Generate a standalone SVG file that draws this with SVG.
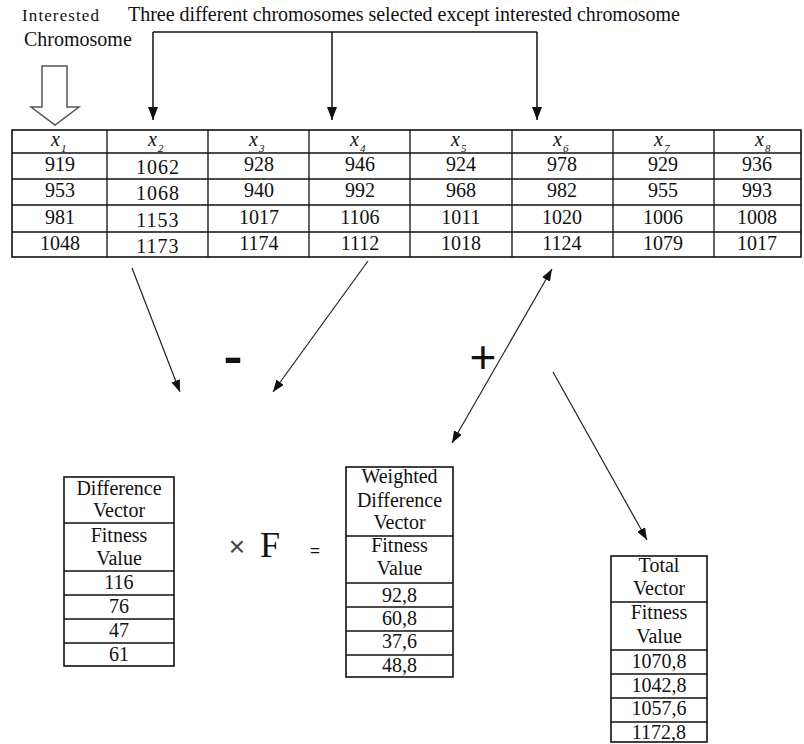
<svg xmlns="http://www.w3.org/2000/svg" width="804" height="744" viewBox="0 0 804 744">
<style>
text{font-family:"Liberation Serif","Times New Roman",serif;fill:#111;}
.c{text-anchor:middle;font-size:20px;}
.hx{font-style:italic;font-size:20px;}
.sub{font-style:italic;font-size:11px;}
.tb{fill:none;stroke:#111;stroke-width:1.6;}
.ln{fill:none;stroke:#111;stroke-width:1.3;}
.con{fill:none;stroke:#111;stroke-width:1.5;}
.dg{fill:none;stroke:#222;stroke-width:1.2;}
</style>
<defs>
<marker id="ah" viewBox="0 0 13 10" refX="13" refY="5" markerWidth="13" markerHeight="10" orient="auto" markerUnits="userSpaceOnUse"><path d="M0,0 L13,5 L0,10 z" fill="#111"/></marker>
<marker id="as" viewBox="0 0 12 9" refX="12" refY="4.5" markerWidth="12" markerHeight="9" orient="auto-start-reverse" markerUnits="userSpaceOnUse"><path d="M0,0 L12,4.5 L0,9 z" fill="#111"/></marker>
</defs>

<g id="labels">
<text x="22" y="21" style="font-size:17px" textLength="77">Interested</text>
<text x="24" y="46" style="font-size:20px">Chromosome</text>
<text x="128" y="21" style="font-size:20px" textLength="552">Three different chromosomes selected except interested chromosome</text>
</g>

<g id="interested-arrow">
<polygon points="42,66 67,66 67,107 79,107 55,125 31,107 42,107" fill="#fff" stroke="#555" stroke-width="1.5"/>
</g>

<g id="population-table">
<rect class="tb" x="12" y="130" width="789" height="127"/>
<path class="ln" d="M12,153H801M12,179H801M12,205H801M12,232H801M107,130V257M208,130V257M309,130V257M410,130V257M512,130V257M613,130V257M714,130V257"/>
<text x="51" y="146" class="hx">x</text><text x="61" y="152" class="sub">1</text>
<text x="148" y="146" class="hx">x</text><text x="158" y="152" class="sub">2</text>
<text x="249" y="146" class="hx">x</text><text x="259" y="152" class="sub">3</text>
<text x="350" y="146" class="hx">x</text><text x="360" y="152" class="sub">4</text>
<text x="451" y="146" class="hx">x</text><text x="461" y="152" class="sub">5</text>
<text x="553" y="146" class="hx">x</text><text x="563" y="152" class="sub">6</text>
<text x="654" y="146" class="hx">x</text><text x="664" y="152" class="sub">7</text>
<text x="755" y="146" class="hx">x</text><text x="765" y="152" class="sub">8</text>

<text class="c" x="60" y="171">919</text>
<text class="c" x="60" y="197">953</text>
<text class="c" x="60" y="224">981</text>
<text class="c" x="60" y="250">1048</text>

<text class="c" x="158" y="174" letter-spacing="1">1062</text>
<text class="c" x="158" y="200" letter-spacing="1">1068</text>
<text class="c" x="158" y="227" letter-spacing="1">1153</text>
<text class="c" x="158" y="253" letter-spacing="1">1173</text>

<text class="c" x="259" y="171">928</text>
<text class="c" x="259" y="197">940</text>
<text class="c" x="259" y="224">1017</text>
<text class="c" x="259" y="250">1174</text>

<text class="c" x="360" y="171">946</text>
<text class="c" x="360" y="197">992</text>
<text class="c" x="360" y="224">1106</text>
<text class="c" x="360" y="250">1112</text>

<text class="c" x="461" y="171">924</text>
<text class="c" x="461" y="197">968</text>
<text class="c" x="461" y="224">1011</text>
<text class="c" x="461" y="250">1018</text>

<text class="c" x="562" y="171">978</text>
<text class="c" x="562" y="197">982</text>
<text class="c" x="562" y="224">1020</text>
<text class="c" x="562" y="250">1124</text>

<text class="c" x="663" y="171">929</text>
<text class="c" x="663" y="197">955</text>
<text class="c" x="663" y="224">1006</text>
<text class="c" x="663" y="250">1079</text>

<text class="c" x="757" y="171">936</text>
<text class="c" x="757" y="197">993</text>
<text class="c" x="757" y="224">1008</text>
<text class="c" x="757" y="250">1017</text>
</g>

<g id="connectors">
<path class="con" d="M153,32H537"/>
<path class="con" d="M153,32V120" marker-end="url(#ah)"/>
<path class="con" d="M332,32V120" marker-end="url(#ah)"/>
<path class="con" d="M537,32V120" marker-end="url(#ah)"/>
<path class="dg" d="M132,268L180,392" marker-end="url(#as)"/>
<path class="dg" d="M368,261L273,392" marker-end="url(#as)"/>
<path class="dg" d="M552,269L452,443" marker-start="url(#as)" marker-end="url(#as)"/>
<path class="dg" d="M553,372L647,540" marker-end="url(#as)"/>
</g>

<g id="operators">
<text x="233" y="372" style="font-family:'Liberation Sans',Arial,sans-serif;font-size:44px;font-weight:bold;text-anchor:middle" transform="translate(233,357) scale(1.3,1) translate(-233,-357)">-</text>
<text x="483" y="373" style="font-family:'Liberation Sans',Arial,sans-serif;font-size:46px;text-anchor:middle">+</text>
<text x="237" y="556" style="font-family:'Liberation Sans',Arial,sans-serif;font-size:28px;text-anchor:middle;fill:#444">×</text>
<text x="270" y="557" style="font-size:36px;text-anchor:middle">F</text>
<text x="315" y="556" style="font-family:'Liberation Sans',Arial,sans-serif;font-size:17px;text-anchor:middle">=</text>
</g>

<g id="difference-vector">
<rect class="tb" x="64" y="477" width="110" height="189"/>
<path class="ln" d="M64,523H174M64,571H174M64,595H174M64,619H174M64,643H174"/>
<text class="c" x="119" y="495">Difference</text>
<text class="c" x="119" y="517">Vector</text>
<text class="c" x="119" y="542">Fitness</text>
<text class="c" x="119" y="565">Value</text>
<text class="c" x="119" y="589">116</text>
<text class="c" x="119" y="613">76</text>
<text class="c" x="119" y="637">47</text>
<text class="c" x="119" y="661">61</text>
</g>

<g id="weighted-difference-vector">
<rect class="tb" x="346" y="467" width="107" height="210"/>
<path class="ln" d="M346,536H453M346,583H453M346,607H453M346,631H453M346,655H453"/>
<text class="c" x="399.5" y="483">Weighted</text>
<text class="c" x="399.5" y="507">Difference</text>
<text class="c" x="399.5" y="529">Vector</text>
<text class="c" x="399.5" y="552">Fitness</text>
<text class="c" x="399.5" y="575">Value</text>
<text class="c" x="399.5" y="602">92,8</text>
<text class="c" x="399.5" y="625">60,8</text>
<text class="c" x="399.5" y="648">37,6</text>
<text class="c" x="399.5" y="672">48,8</text>
</g>

<g id="total-vector">
<rect class="tb" x="611" y="556" width="96" height="186"/>
<path class="ln" d="M611,602H707M611,650H707M611,674H707M611,698H707M611,722H707"/>
<text class="c" x="659" y="572">Total</text>
<text class="c" x="659" y="595">Vector</text>
<text class="c" x="659" y="619">Fitness</text>
<text class="c" x="659" y="643">Value</text>
<text class="c" x="659" y="668">1070,8</text>
<text class="c" x="659" y="692">1042,8</text>
<text class="c" x="659" y="715">1057,6</text>
<text class="c" x="659" y="739">1172,8</text>
</g>
</svg>
